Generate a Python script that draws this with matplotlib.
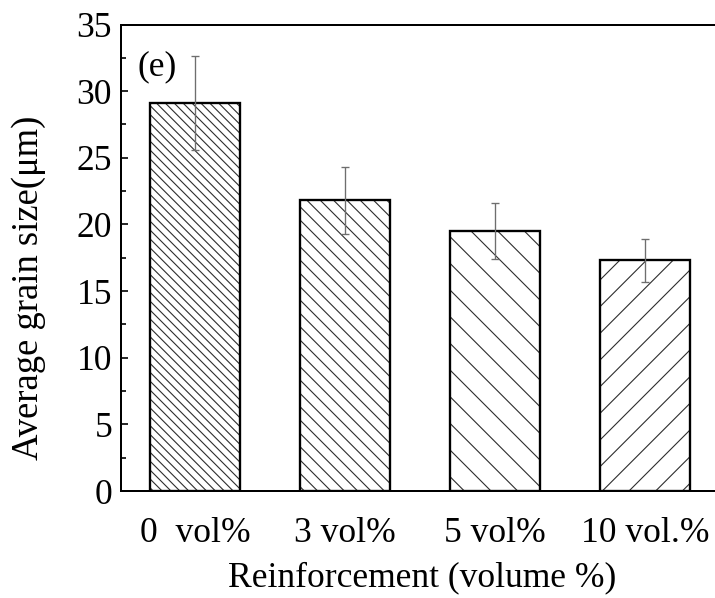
import matplotlib.pyplot as plt
from matplotlib.ticker import MultipleLocator

# values
categories = ['0  vol%', '3 vol%', '5 vol%', '10 vol.%']
grain_size = [29.1, 21.8, 19.5, 17.3]
grain_err = [3.5, 2.5, 2.1, 1.6]
hatches = ['\\\\\\', '\\\\', '\\', '/']

plt.rcParams['font.family'] = ['Liberation Serif', 'DejaVu Serif']
plt.rcParams['hatch.linewidth'] = 1.0

DPI = 80
fig = plt.figure(figsize=(715 / DPI, 598 / DPI), dpi=DPI)
ax = fig.add_axes([121 / 715, 107 / 598, 594 / 715, 466.5 / 598])

x = list(range(len(categories)))
# hatch layer (grey lines), then black outline on top
for i in x:
    ax.bar(i, grain_size[i], width=0.6, color='white', edgecolor='#2e2e2e',
           hatch=hatches[i], linewidth=0)
ax.bar(x, grain_size, width=0.6, fill=False, edgecolor='black', linewidth=2.1)
ax.errorbar(x, grain_size, yerr=grain_err, fmt='none', ecolor='#6e6e6e',
            elinewidth=1.2, capsize=4, capthick=1.2)

ax.set_xlim(-0.493, 3.467)
ax.set_ylim(0, 35)
ax.set_xticks(x)
ax.set_xticklabels(categories)
ax.yaxis.set_major_locator(MultipleLocator(5))
ax.yaxis.set_minor_locator(MultipleLocator(2.5))

ax.tick_params(axis='y', which='major', direction='in', length=6.3, width=1.5,
               labelsize=32, pad=8)
ax.tick_params(axis='y', which='minor', direction='in', length=4.5, width=1.5)
ax.tick_params(axis='x', length=0, labelsize=32, pad=23)

for side in ['left', 'bottom', 'top']:
    ax.spines[side].set_linewidth(1.8)
ax.spines['right'].set_visible(False)

ax.set_ylabel('Average grain size(μm)', fontsize=33)
ax.yaxis.set_label_coords(-0.126, 0.435)
ax.set_xlabel('Reinforcement (volume %)', fontsize=32)
ax.xaxis.set_label_coords(0.507, -0.150)

ax.text(-0.38, 31.8, '(e)', fontsize=32, ha='left', va='center')

fig.savefig('out.png', dpi=DPI)
